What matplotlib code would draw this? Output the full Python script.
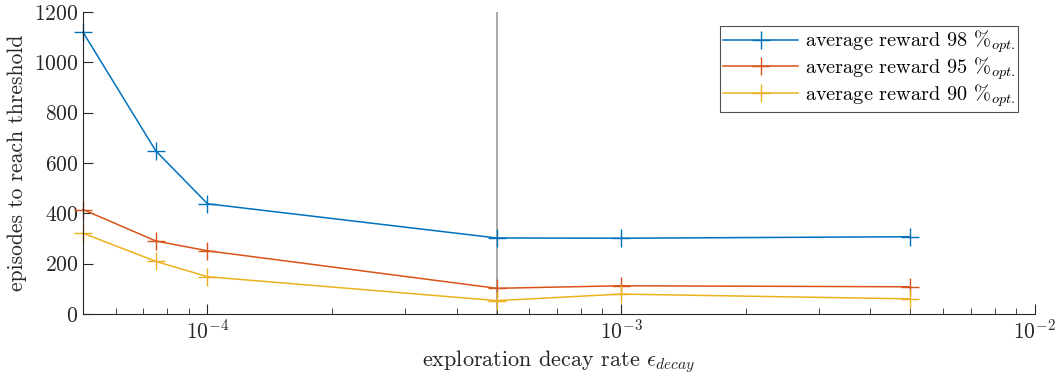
import matplotlib
matplotlib.use('Agg')
import matplotlib.pyplot as plt

plt.rcParams['font.family'] = 'serif'
plt.rcParams['font.serif'] = ['cmr10']
plt.rcParams['mathtext.fontset'] = 'cm'
plt.rcParams['axes.formatter.use_mathtext'] = True

decay = [5e-5, 7.5e-5, 1e-4, 5e-4, 1e-3, 5e-3]
reward98 = [1120, 648, 438, 302, 301, 307]
reward95 = [415, 290, 251, 102, 112, 108]
reward90 = [321, 209, 148, 53, 79, 60]
labels = ['average reward 98 $\\%_{opt.}$', 'average reward 95 $\\%_{opt.}$',
          'average reward 90 $\\%_{opt.}$']
colors = ['#0072BD', '#D95319', '#EDB120']
vline_x = 5e-4

fig = plt.figure(figsize=(10.57, 3.76), dpi=100)
ax = fig.add_axes([0.0785, 0.165, 0.9005, 0.803])

ax.axvline(vline_x, color='#999999', lw=1.2, zorder=1)
for y, lab, c in zip([reward98, reward95, reward90], labels, colors):
    ax.plot(decay, y, color=c, marker='+', markersize=13, mew=1.0, lw=1.1, label=lab,
            zorder=2, clip_on=False)

ax.set_xscale('log')
ax.set_xlim(5e-5, 1e-2)
ax.set_ylim(0, 1200)
ax.set_yticks(range(0, 1201, 200))
ax.set_xticks([1e-4, 1e-3, 1e-2])

for s in ['top', 'right']:
    ax.spines[s].set_visible(False)
for s in ['left', 'bottom']:
    ax.spines[s].set_color('#262626')
    ax.spines[s].set_linewidth(0.8)
ax.tick_params(axis='both', which='both', direction='in', colors='#262626', labelsize=15.5)
ax.tick_params(axis='both', which='major', length=7)
ax.tick_params(axis='x', which='minor', length=4)

ax.set_xlabel('exploration decay rate $\\epsilon_{decay}$', fontsize=16, color='#262626', labelpad=4)
ax.set_ylabel('episodes to reach threshold', fontsize=15.5, color='#262626', labelpad=5)

leg = ax.legend(loc='upper right', bbox_to_anchor=(0.982, 0.955), fontsize=14.6, fancybox=False,
                edgecolor='#262626', handlelength=3.7, borderpad=0.15, labelspacing=0.0,
                handletextpad=0.3, borderaxespad=0)
leg.get_frame().set_linewidth(0.8)

fig.savefig('out.png', dpi=100)
